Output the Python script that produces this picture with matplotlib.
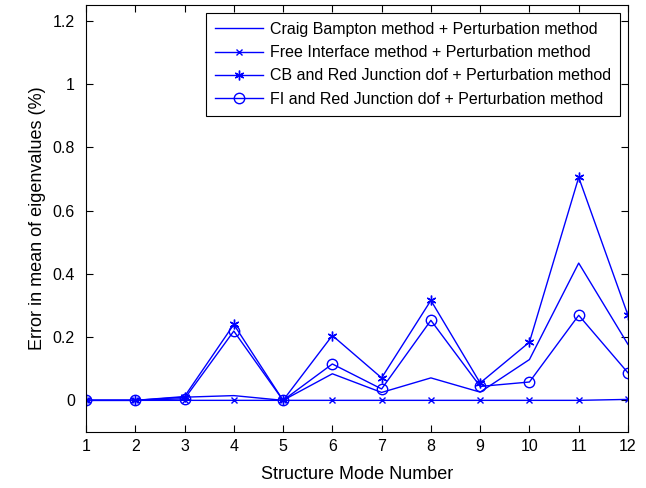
import matplotlib
matplotlib.use("Agg")
import matplotlib.pyplot as plt

plt.rcParams['font.family'] = ['Liberation Sans', 'DejaVu Sans']

modes = [1, 2, 3, 4, 5, 6, 7, 8, 9, 10, 11, 12]
cb = [0, 0, 0.010, 0.015, 0, 0.084, 0.025, 0.071, 0.026, 0.129, 0.434, 0.177]
fi = [0, 0, 0, 0, 0, 0, 0, 0, 0, 0, 0, 0.003]
cb_red = [0, 0, 0.012, 0.240, 0, 0.205, 0.071, 0.316, 0.055, 0.184, 0.705, 0.269]
fi_red = [0, 0, 0.005, 0.219, 0, 0.115, 0.036, 0.253, 0.044, 0.058, 0.269, 0.087]

labels = ["Craig Bampton method + Perturbation method",
          "Free Interface method + Perturbation method",
          "CB and Red Junction dof + Perturbation method",
          "FI and Red Junction dof + Perturbation method"]

fig = plt.figure(figsize=(6.46, 4.88), dpi=100)
ax = fig.add_axes([0.1331, 0.1148, 0.839, 0.875])
c = (0, 0, 1)
lw = 1.0
ax.plot(modes, cb, color=c, lw=lw, label=labels[0])
ax.plot(modes, fi, color=c, lw=lw, marker='x', ms=4, mew=1.0, label=labels[1])
ax.plot(modes, cb_red, color=c, lw=lw, marker=(6, 2, 0), ms=7, mew=1.0, label=labels[2])
ax.plot(modes, fi_red, color=c, lw=lw, marker='o', ms=7.5, mfc='none', mew=1.0, label=labels[3])

ax.set_xlim(1, 12)
ax.set_ylim(-0.1, 1.25)
ax.set_xticks(modes)
ax.set_xticklabels([str(m) for m in modes])
ax.set_yticks([0, 0.2, 0.4, 0.6, 0.8, 1.0, 1.2])
ax.set_yticklabels(['0', '0.2', '0.4', '0.6', '0.8', '1', '1.2'])
ax.tick_params(direction='in', top=True, right=True, length=5, width=0.8, labelsize=11.5)
ax.tick_params(axis='x', pad=5)
ax.tick_params(axis='y', pad=8)
for s in ax.spines.values():
    s.set_linewidth(0.8)
ax.set_xlabel("Structure Mode Number", fontsize=13, labelpad=9)
ax.set_ylabel("Error in mean of eigenvalues (%)", fontsize=13, labelpad=5)

leg = ax.legend(loc='upper right', bbox_to_anchor=(0.985, 0.981), borderaxespad=0,
                fontsize=11.5, fancybox=False, framealpha=1, edgecolor='black',
                handlelength=3.0, labelspacing=0.52, handletextpad=0.45,
                borderpad=0.55)
leg.get_frame().set_linewidth(0.8)

fig.savefig("out.png", dpi=100)
